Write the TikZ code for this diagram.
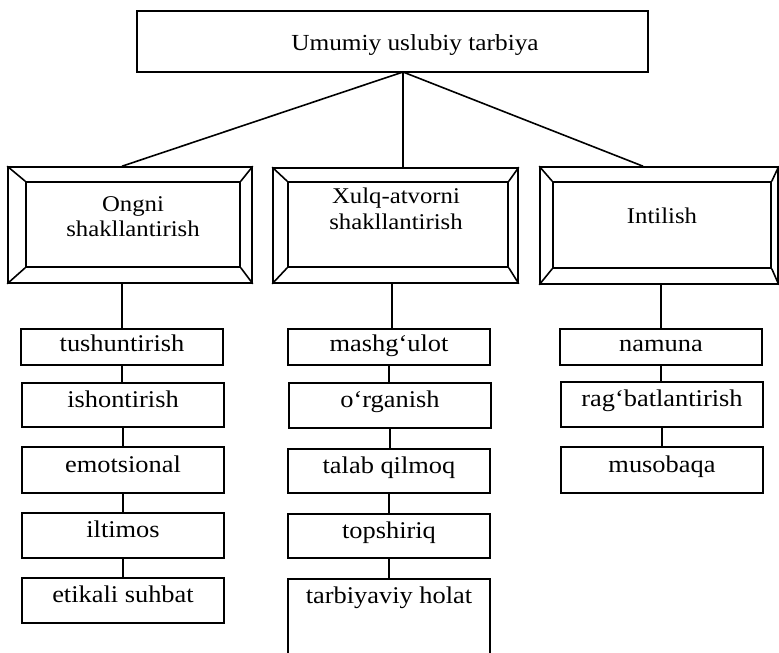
\documentclass[tikz,border=0pt]{standalone}
\usepackage{fontspec}
\setmainfont{Liberation Serif}[FakeStretch=1.1]
\usetikzlibrary{fit}
\begin{document}
\begin{tikzpicture}[x=1pt,y=-1pt,line width=1.6pt,
  box/.style={draw,inner sep=0pt,fit={#1}},
  txt/.style={font=\fontsize{22.5}{26}\selectfont,align=center,inner sep=0pt},
  stxt/.style={font=\fontsize{24}{28}\selectfont,inner sep=0pt,text height=14pt,text depth=10pt}]
\useasboundingbox (0,0) rectangle (779,653);
\clip (0,0) rectangle (779,653);
% top box
\node[box={(137,11) (648,72)}] (top) {};
\node[txt,font=\fontsize{23}{26}\selectfont,anchor=base] (toptxt) at (415,50) {Umumiy uslubiy tarbiya};
\coordinate (apex) at (403,72);
% frames
\node[box={(8,167) (252,283)}] (fl) {};
\node[box={(26,182) (240,267)}] (fli) {};
\node[box={(273,168) (518,283)}] (fm) {};
\node[box={(288,182) (508,267)}] (fmi) {};
\node[box={(540,167) (778,284)}] (fr) {};
\node[box={(553,182) (771,268)}] (fri) {};
\foreach \o/\i in {fl/fli,fm/fmi,fr/fri}{
  \draw (\o.north west) -- (\i.north west);
  \draw (\o.north east) -- (\i.north east);
  \draw (\o.south west) -- (\i.south west);
  \draw (\o.south east) -- (\i.south east);
}
\node[txt,font=\fontsize{22.5}{25}\selectfont] (fltxt) at (133,217) {Ongni\\shakllantirish};
\node[txt,font=\fontsize{22.5}{26.5}\selectfont] (fmtxt) at (396,209) {Xulq-atvorni\\shakllantirish};
\node[txt,anchor=base] (frtxt) at (662,223) {Intilish};
% fan
\draw (apex) -- ([xshift=-8pt]fl.north);
\draw (apex) -- ([xshift=7.5pt]fm.north);
\draw (apex) -- ([xshift=-16pt]fr.north);
% left column
\node[box={(21,329) (223,365)}] (l1) {};
\node[box={(22,383) (224,427)}] (l2) {};
\node[box={(22,447) (224,493)}] (l3) {};
\node[box={(22,513) (224,558)}] (l4) {};
\node[box={(22,578) (224,623)}] (l5) {};
\node[stxt] at ([yshift=-2pt]l1) {tushuntirish};
\node[stxt] at (l2) {ishontirish};
\node[stxt] at (l3) {emotsional};
\node[stxt] at (l4) {iltimos};
\node[stxt] at (l5) {etikali suhbat};
% middle column
\node[box={(288,329) (490,365)}] (m1) {};
\node[box={(289,383) (491,428)}] (m2) {};
\node[box={(288,449) (490,493)}] (m3) {};
\node[box={(288,514) (490,558)}] (m4) {};
\node[box={(288,579) (490,670)}] (m5) {};
\node[stxt] at ([yshift=-2pt]m1) {mashg‘ulot};
\node[stxt] at (m2) {o‘rganish};
\node[stxt] at (m3) {talab qilmoq};
\node[stxt] at (m4) {topshiriq};
\node[stxt,anchor=base] at (389,603) {tarbiyaviy holat};
% right column
\node[box={(560,329) (762,365)}] (r1) {};
\node[box={(561,382) (763,427)}] (r2) {};
\node[box={(561,447) (763,493)}] (r3) {};
\node[stxt] at ([yshift=-2pt]r1) {namuna};
\node[stxt] at (r2) {rag‘batlantirish};
\node[stxt] at (r3) {musobaqa};
% vertical connectors
\draw (fl.south -| l1.north) -- (l1.north);
\draw ([xshift=3pt]fm.south -| m1.north) -- ([xshift=3pt]m1.north);
\draw (fr.south -| r1.north) -- (r1.north);
\foreach \a/\b in {l1/l2,l2/l3,l3/l4,l4/l5,m1/m2,m2/m3,m3/m4,m4/m5,r1/r2,r2/r3}{
  \draw (\a.south) -- (\a.south |- \b.north);
}
\end{tikzpicture}
\end{document}
